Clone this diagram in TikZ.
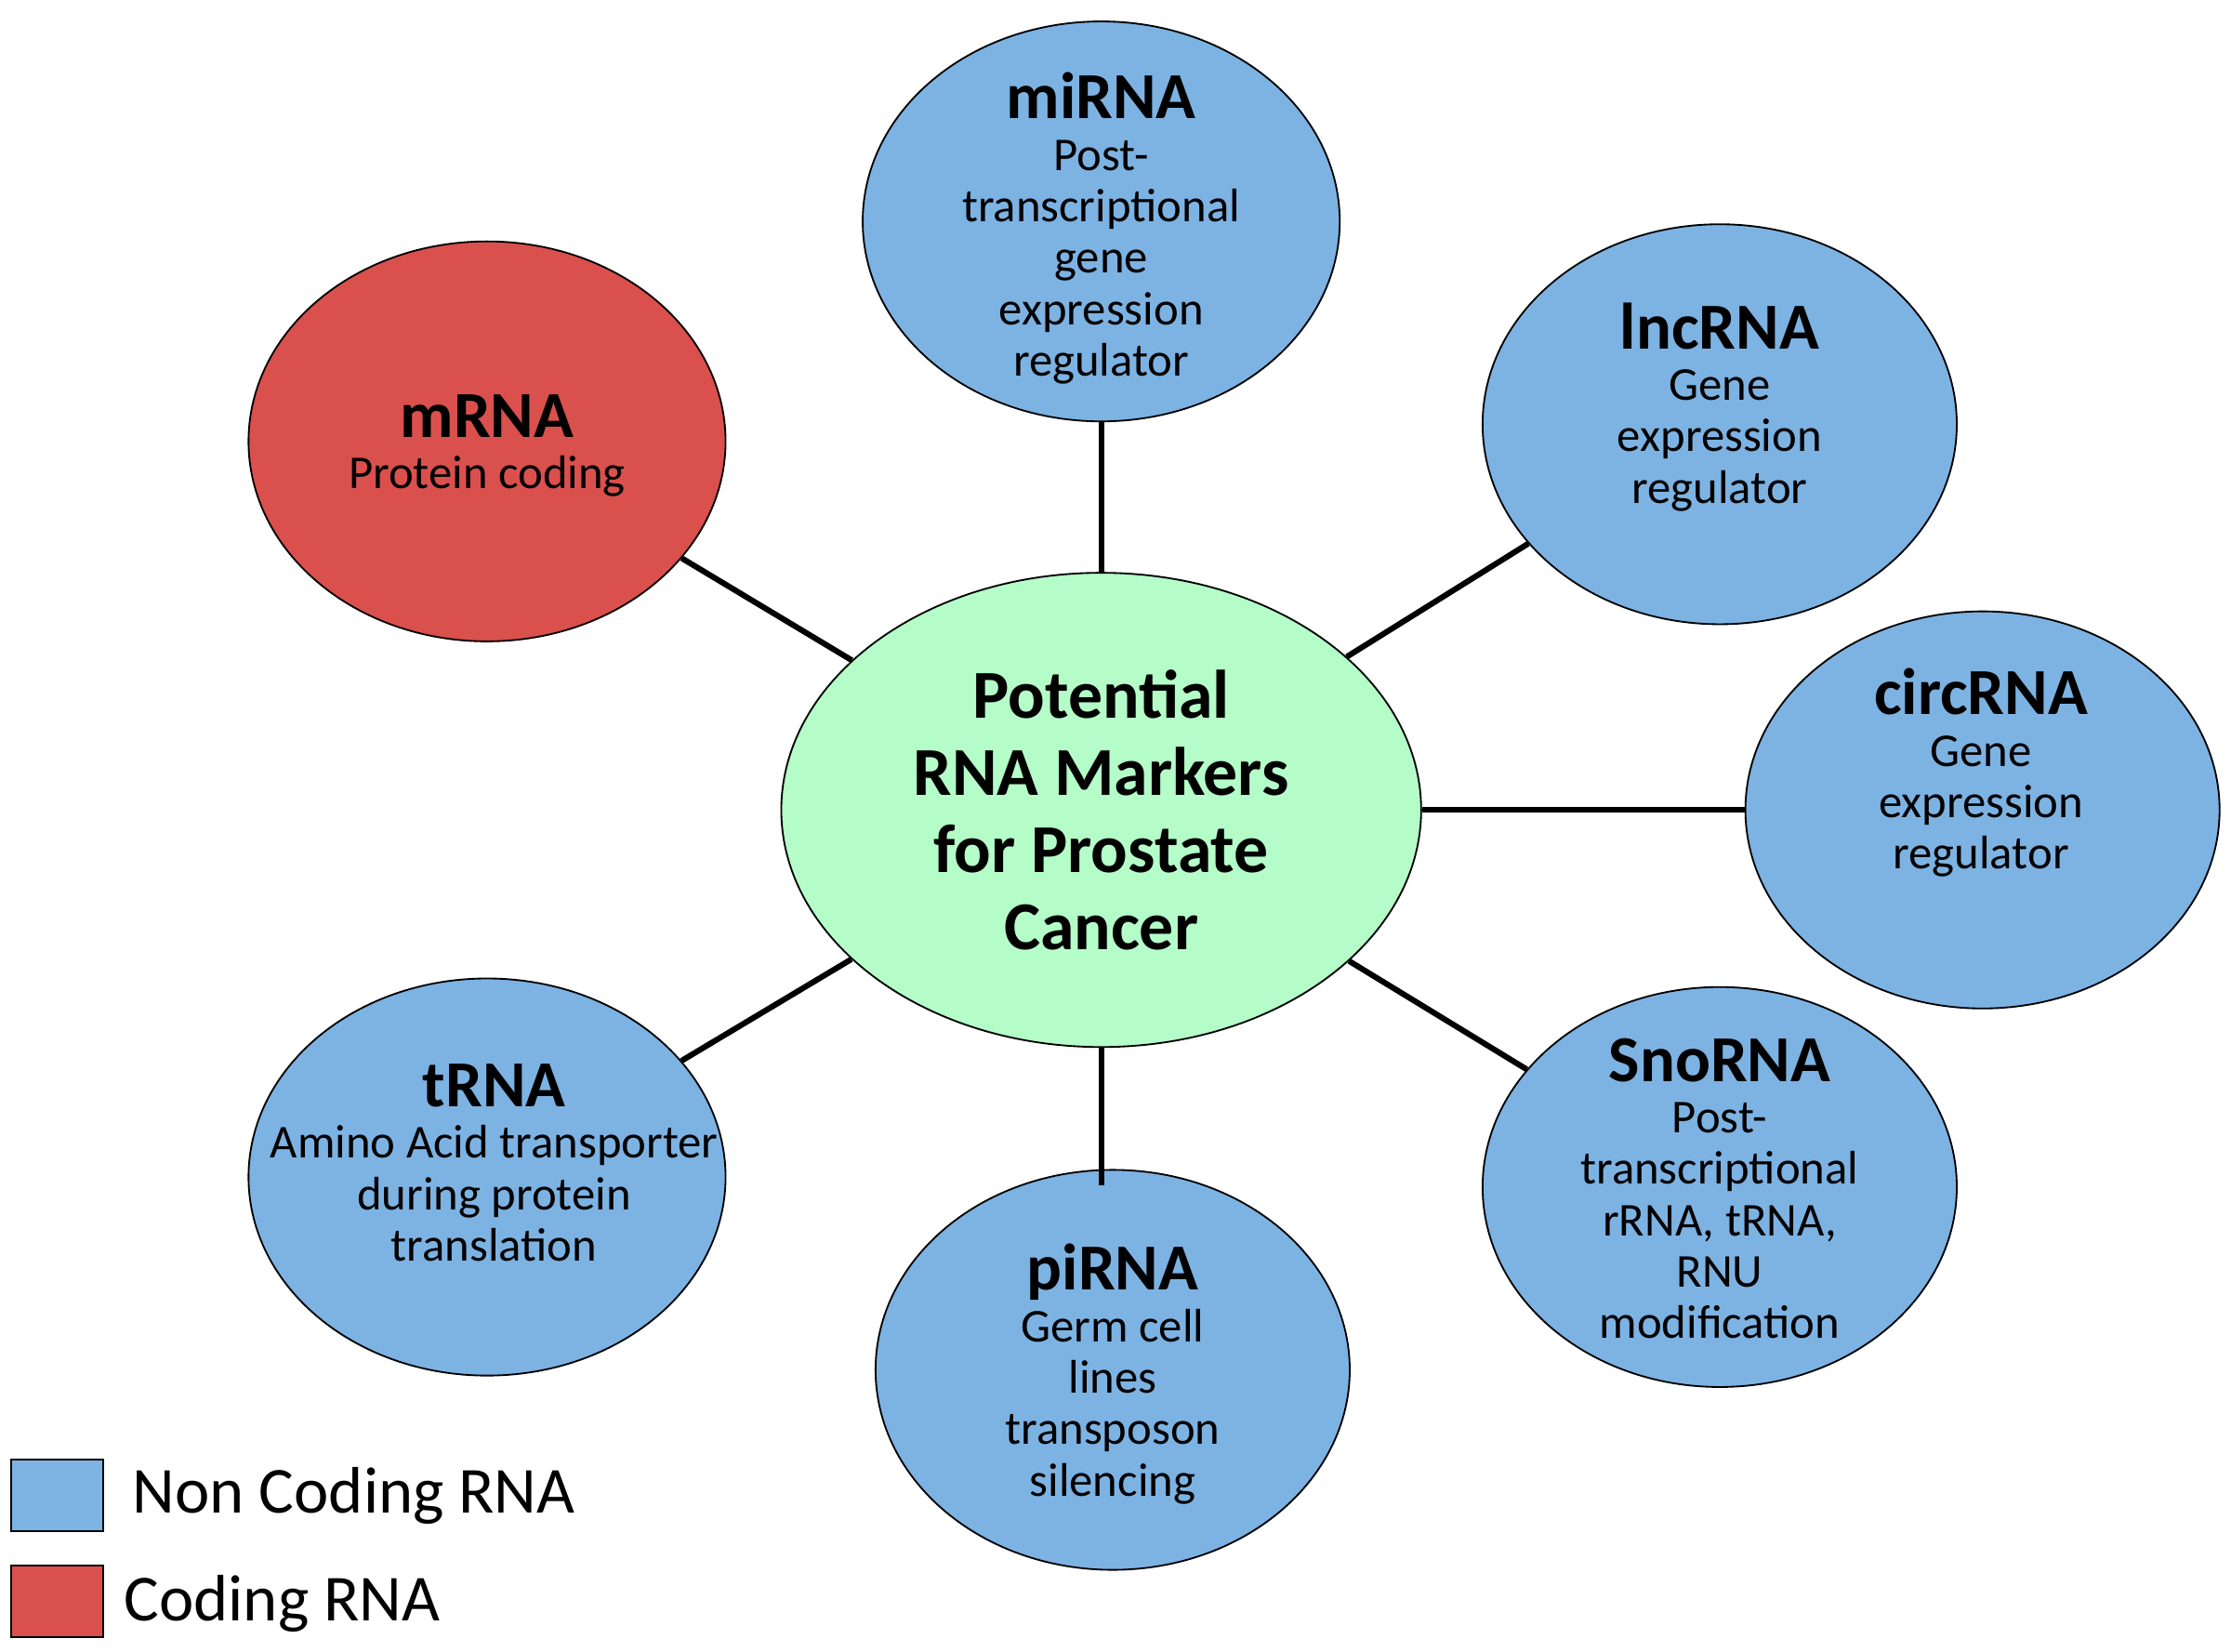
\documentclass[tikz,border=0pt]{standalone}
\usepackage{fontspec}
\setmainfont{Carlito}
\usetikzlibrary{shapes.geometric}
\definecolor{nb}{RGB}{125,179,227}
\definecolor{cr}{RGB}{218,80,77}
\definecolor{cg}{RGB}{180,252,200}
\newcommand\myttl[1]{{\fontsize{23}{26}\bfseries\selectfont #1}}
\begin{document}
\begin{tikzpicture}[x=0.5pt,y=-0.5pt,
 ell/.style={ellipse,draw=black,line width=0.6pt,inner sep=0pt},
 body/.style={font=\fontsize{16.5}{18}\selectfont,align=center},
 con/.style={line width=2pt}]
\useasboundingbox (0,0) rectangle (1562,1156);
\node[ell,fill=nb,minimum width=167pt,minimum height=140pt] (mi) at (771,155) {};
\node[ell,fill=cr,minimum width=167pt,minimum height=140pt] (m) at (341,309) {};
\node[ell,fill=nb,minimum width=166pt,minimum height=140pt] (lnc) at (1204,297) {};
\node[ell,fill=nb,minimum width=166pt,minimum height=139pt] (circ) at (1388,567) {};
\node[ell,fill=nb,minimum width=166pt,minimum height=140pt] (sno) at (1204,831) {};
\node[ell,fill=nb,minimum width=166pt,minimum height=140pt] (pi) at (779,959) {};
\node[ell,fill=nb,minimum width=167pt,minimum height=139pt] (t) at (341,824) {};
\node[ell,fill=cg,minimum width=224pt,minimum height=166pt] (c) at (771,567) {};
\coordinate (pitop) at (771,830);
\draw[con] (c) -- (mi);
\draw[con] (c) -- (m);
\draw[con] (c) -- (lnc);
\draw[con] (c) -- (circ);
\draw[con] (c) -- (sno);
\draw[con] (c) -- (t);
\draw[con] (c.south) -- (pitop);
\node[body] (tmi) at (771,160) {\myttl{miRNA}\\Post-\\transcriptional\\gene\\expression\\regulator};
\node[body] (tm) at (341,312) {\myttl{mRNA}\\Protein coding};
\node[body] (tlnc) at (1204,285) {\myttl{lncRNA}\\Gene\\expression\\regulator};
\node[body] (tcirc) at (1387,541) {\myttl{circRNA}\\Gene\\expression\\regulator};
\node[body] (tsno) at (1204,832) {\myttl{SnoRNA}\\Post-\\transcriptional\\rRNA, tRNA,\\RNU\\modification};
\node[body] (tpi) at (779,962) {\myttl{piRNA}\\Germ cell\\lines\\transposon\\silencing};
\node[body] (tt) at (346,814) {\myttl{tRNA}\\Amino Acid transporter\\during protein\\translation};
\node[font=\fontsize{24}{27}\bfseries\selectfont,align=center] (tc) at (771,567) {Potential\\RNA Markers\\for Prostate\\Cancer};
\draw[fill=nb,line width=0.6pt] (8,1022) rectangle (72,1072);
\draw[fill=cr,line width=0.6pt] (8,1096) rectangle (72,1146);
\node[anchor=west,font=\fontsize{23}{26}\selectfont] (l1) at (86,1047) {Non Coding RNA};
\node[anchor=west,font=\fontsize{23}{26}\selectfont] (l2) at (80,1123) {Coding RNA};
\end{tikzpicture}
\end{document}
